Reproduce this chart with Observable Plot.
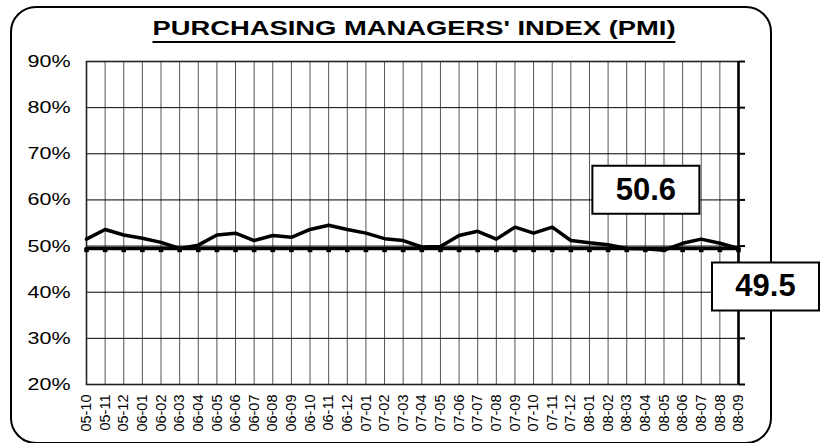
<!DOCTYPE html>
<html><head><meta charset="utf-8">
<script src="https://cdn.jsdelivr.net/npm/d3@7"></script>
<script src="https://cdn.jsdelivr.net/npm/@observablehq/plot@0.6"></script>
<style>
body{margin:0;overflow:hidden;background:#fff;font-family:"Liberation Sans",Arial,sans-serif}
#wrap{position:relative;width:823px;height:443px;overflow:hidden}
#frame{position:absolute;left:10px;top:6px;width:762px;height:438px;box-sizing:border-box;border:2px solid #000;border-radius:26px}
#title{position:absolute;top:18px;left:calc(50% + 2px);transform:translateX(-50%) scaleX(1.334);white-space:nowrap;font-weight:bold;font-size:20.5px;line-height:20.5px;padding-bottom:2px;border-bottom:2px solid #000;color:#000}
#chart{position:absolute;left:0;top:50px}
</style></head>
<body>
<div id="wrap">
  <div id="frame"></div>
  <div id="title">PURCHASING MANAGERS' INDEX (PMI)</div>
  <div id="chart"></div>
</div>
<script>
const months = ["05-10","05-11","05-12",
  "06-01","06-02","06-03","06-04","06-05","06-06","06-07","06-08","06-09","06-10","06-11","06-12",
  "07-01","07-02","07-03","07-04","07-05","07-06","07-07","07-08","07-09","07-10","07-11","07-12",
  "08-01","08-02","08-03","08-04","08-05","08-06","08-07","08-08","08-09"];
const pmi = [51.5, 53.6, 52.4,
  51.7, 50.8, 49.5, 50.2, 52.4, 52.8, 51.2, 52.3, 51.9, 53.6, 54.5, 53.6,
  52.8, 51.6, 51.2, 49.8, 49.9, 52.3, 53.2, 51.5, 54.1, 52.8, 54.1, 51.2,
  50.7, 50.3, 49.5, 49.4, 49.1, 50.6, 51.5, 50.6, 49.5];
const yTicks = [20, 30, 40, 50, 60, 70, 80, 90];

const refLevel = pmi[pmi.length - 1];
const rows = months.map((m, i) => ({month: m, pmi: pmi[i], ref: refLevel}));
const prev = {month: months[months.length - 2], value: pmi[pmi.length - 2]};
const last = {month: months[months.length - 1], value: pmi[pmi.length - 1]};

const boxSymbol = {draw(ctx) {
  const w = 53.5, h = 24;
  ctx.moveTo(-w, -h); ctx.lineTo(w, -h); ctx.lineTo(w, h); ctx.lineTo(-w, h); ctx.closePath();
}};

function callout(d, dx, dy) {
  return [
    Plot.dot([d], {x: "month", y: "value", symbol: boxSymbol, r: 5, fill: "#fff", stroke: "#000", strokeWidth: 2, dx, dy}),
    Plot.text([d], {x: "month", y: "value", text: v => v.value.toFixed(1), dx, dy, fontSize: 31, fontWeight: "bold", fill: "#000"})
  ];
}

const chart = Plot.plot({
  width: 823, height: 393,
  marginTop: 11, marginBottom: 59, marginLeft: 86, marginRight: 85,
  style: {fontFamily: "'Liberation Sans', Arial, sans-serif", background: "transparent", overflow: "visible", color: "#000"},
  x: {type: "point", domain: months, padding: 0, round: false, label: null},
  y: {domain: [20, 90], label: null},
  marks: [
    Plot.ruleX(months, {stroke: "#555", strokeWidth: 1}),
    Plot.ruleY(yTicks, {stroke: "#000", strokeWidth: 1}),
    Plot.frame({stroke: "#222", strokeWidth: 1.6}),
    Plot.ruleX([months[months.length - 1]], {stroke: "#000", strokeWidth: 2.5}),
    Plot.axisY(yTicks, {anchor: "left", tickSize: 0, tickPadding: 16, tickFormat: d => d + "%", fontSize: 17, label: null}),
    Plot.axisY(yTicks, {anchor: "right", tickSize: 6, tickFormat: () => "", strokeWidth: 2, label: null}),
    Plot.axisX({tickRotate: -90, tickSize: 0, tickPadding: 10, fontSize: 14.5, label: null}),
    Plot.line(rows, {x: "month", y: "ref", stroke: "#000", strokeWidth: 3.5}),
    Plot.dot(rows, {x: "month", y: "ref", symbol: "square", r: 2.6, fill: "#000", dy: 1.5}),
    Plot.line(rows, {x: "month", y: "pmi", stroke: "#000", strokeWidth: 3.5, strokeLinejoin: "round"}),
    ...callout(prev, -74, -53.5),
    ...callout(last, 27, 38)
  ]
});
document.getElementById("chart").appendChild(chart);
d3.select(chart).selectAll("[aria-label='y-axis tick label'] text")
  .attr("textLength", 43).attr("lengthAdjust", "spacingAndGlyphs");
</script>
</body></html>
